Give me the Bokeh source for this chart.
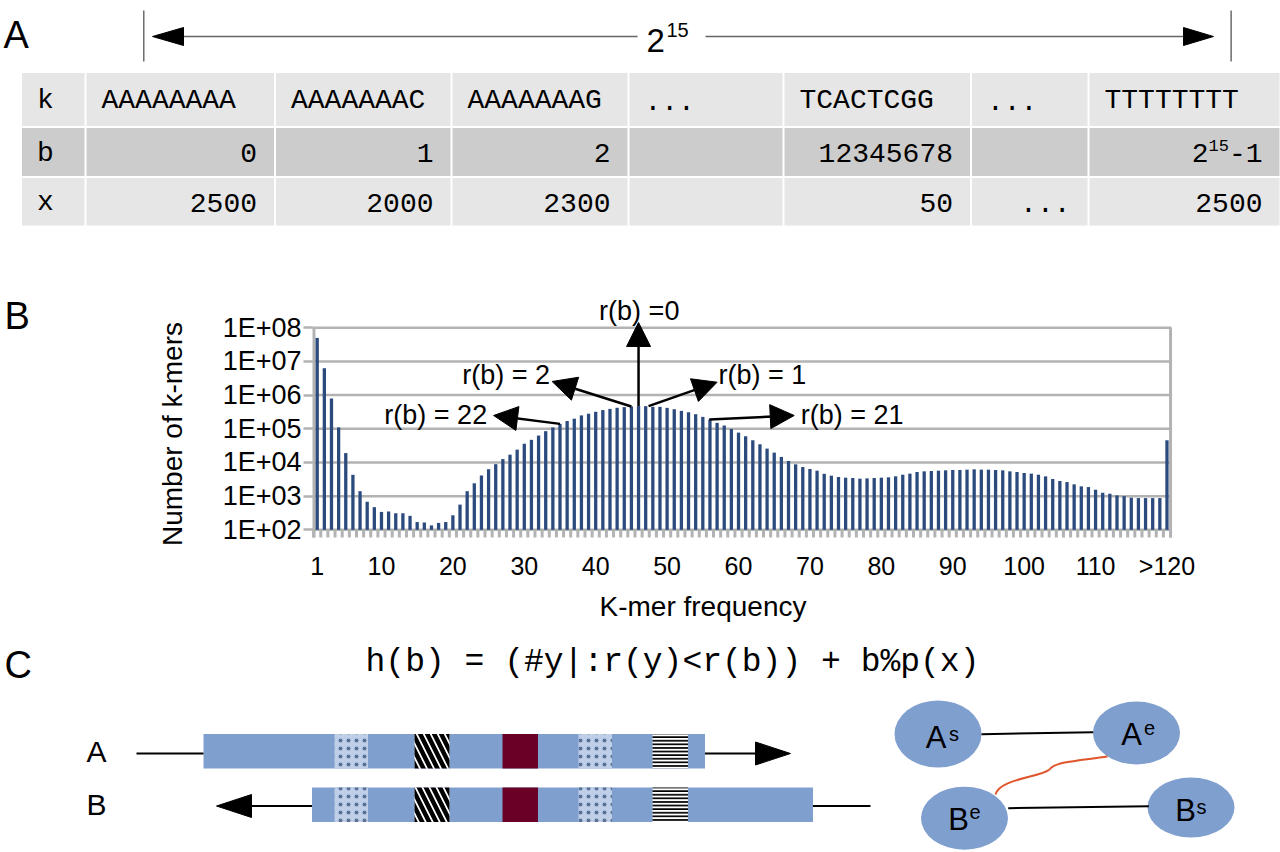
import numpy as np
from bokeh.plotting import figure
from bokeh.models import (Range1d, FixedTicker, CustomJSTickFormatter, Arrow, NormalHead,
                          LogScale, LinearAxis, LogAxis)
from bokeh.embed import file_html
from bokeh.resources import INLINE
from bokeh.core.properties import value

# ---------------- data ----------------
row_names = ["k", "b", "x"]
kmers = ["AAAAAAAA", "AAAAAAAC", "AAAAAAAG", "...", "TCACTCGG", "...", "TTTTTTTT"]
b_values = ["0", "1", "2", "", "12345678", "", "-1"]
x_values = ["2500", "2000", "2300", "", "50", "...", "2500"]
span_base = "2"
span_exp = "15"

freq_categories = [str(i) for i in range(1, 120)] + [">120"]
kmer_counts = [
    5.0e7, 6.3e6, 8.0e5, 1.1e5, 1.9e4, 4300, 1400, 680, 470, 340,
    350, 310, 310, 260, 170, 165, 135, 160, 170, 270,
    560, 1400, 2400, 4100, 6300, 8900, 12600, 17000, 24000, 36000,
    47000, 63000, 85000, 110000, 140000, 170000, 200000, 250000, 280000, 320000,
    360000, 390000, 420000, 440000, 460000, 470000, 470000, 450000, 448000, 418000,
    381000, 340000, 310000, 271000, 226000, 188000, 150000, 125000, 99000, 77000,
    60000, 45600, 34700, 25800, 19600, 14600, 11100, 8800, 7300, 6400,
    5700, 4600, 4050, 3700, 3530, 3450, 3300, 3370, 3450, 3530,
    3610, 3870, 4330, 4650, 5200, 5450, 5570, 5700, 5830, 5970,
    5970, 6110, 6250, 6110, 6110, 5970, 5830, 5450, 5200, 4860,
    4650, 4330, 3870, 3220, 2810, 2620, 2240, 1950, 1860, 1550,
    1260, 1180, 1050, 1000, 900, 875, 875, 875, 875, 45600,
]
x_tick_labels = ["1", "10", "20", "30", "40", "50", "60", "70", "80", "90", "100", "110", ">120"]
y_tick_values = [1e2, 1e3, 1e4, 1e5, 1e6, 1e7, 1e8]
x_title = "K-mer frequency"
y_title = "Number of k-mers"
annotations = ["r(b) =0", "r(b) = 2", "r(b) = 1", "r(b) = 22", "r(b) = 21"]

formula = "h(b) = (#y|:r(y)<r(b)) + b%p(x)"
track_names = ["A", "B"]
node_letters = ["A", "A", "B", "B"]
node_sups = ["s", "e", "e", "s"]

SANS = value("Liberation Sans")
MONO = value("Liberation Mono")
W, H = 1280, 852

# One canvas in image pixel coordinates (y downwards); the histogram uses its own
# linear x range and log y range, placed so that its plot area sits where it belongs.
p = figure(width=W, height=H, x_range=Range1d(0, W), y_range=Range1d(H, 0),
           output_backend="svg", toolbar_location=None,
           x_axis_location=None, y_axis_location=None,
           min_border=0, outline_line_color=None)
p.grid.visible = False

PX_PER_BIN = 7.141     # pixels per frequency bin
X1_PAGE = 316.7        # x of bin 1
PX_PER_DEC = 33.67     # pixels per decade
Y100_PAGE = 529.3      # y of 1E+02
hx0 = 1 - X1_PAGE / PX_PER_BIN
hx1 = 1 + (W - X1_PAGE) / PX_PER_BIN
hy0 = 10 ** (2 - (H - Y100_PAGE) / PX_PER_DEC)
hy1 = 10 ** (2 + Y100_PAGE / PX_PER_DEC)
p.extra_x_ranges = {"hx": Range1d(hx0, hx1)}
p.extra_y_ranges = {"hy": Range1d(hy0, hy1)}
p.extra_y_scales = {"hy": LogScale()}
HR = dict(x_range_name="hx", y_range_name="hy")

# ================= Panel A =================
p.text(x=[3], y=[34], text=["A"], text_font=SANS, text_font_size="38px",
       text_align="left", text_baseline="middle")
p.segment(x0=[143.3, 1230.6], y0=[10, 10], x1=[143.3, 1230.6], y1=[61, 61],
          line_color="#555555", line_width=1.3)
p.segment(x0=[183, 705], y0=[36, 36], x1=[637, 1183], y1=[36, 36],
          line_color="#666666", line_width=1.3)
p.patches(xs=[[152, 183, 183], [1213, 1183, 1183]], ys=[[36, 27, 45], [36, 27, 45]],
          fill_color="black", line_color="black")
p.text(x=[646], y=[40], text=[span_base], text_font=SANS, text_font_size="33px",
       text_align="left", text_baseline="middle")
p.text(x=[666], y=[29], text=[span_exp], text_font=SANS, text_font_size="20px",
       text_align="left", text_baseline="middle")

col_edges = [20.5, 85, 274.5, 451, 628, 783, 970.5, 1088, 1280]
row_edges = [71.5, 126.5, 176.5, 226]
row_fill = ["#e6e6e6", "#cccccc", "#e6e6e6"]
L, R, T, B, C = [], [], [], [], []
for r in range(3):
    for c in range(len(col_edges) - 1):
        L.append(col_edges[c] + 1)
        R.append(col_edges[c + 1] - 1)
        T.append(row_edges[r] + 1)
        B.append(row_edges[r + 1] - 1)
        C.append(row_fill[r])
p.quad(left=L, right=R, top=T, bottom=B, fill_color=C, line_color=None)

rc = [(row_edges[i] + row_edges[i + 1]) / 2 + 1 for i in range(3)]
p.text(x=[col_edges[0] + 16] * 3, y=rc, text=row_names, text_font=MONO,
       text_font_size="28px", text_align="left", text_baseline="middle")
p.text(x=[e + 16 for e in col_edges[1:-1]], y=[rc[0]] * len(kmers), text=kmers,
       text_font=MONO, text_font_size="28px", text_align="left", text_baseline="middle")
p.text(x=[e - 18 for e in col_edges[2:]], y=[rc[1]] * len(b_values), text=b_values,
       text_font=MONO, text_font_size="28px", text_align="right", text_baseline="middle")
p.text(x=[e - 18 for e in col_edges[2:]], y=[rc[2]] * len(x_values), text=x_values,
       text_font=MONO, text_font_size="28px", text_align="right", text_baseline="middle")
last_r = col_edges[-1] - 18 - 2 * 16.8
p.text(x=[last_r], y=[rc[1] - 8], text=[span_exp], text_font=MONO, text_font_size="17px",
       text_align="right", text_baseline="middle")
p.text(x=[last_r - 2 * 10.2], y=[rc[1]], text=[span_base], text_font=MONO,
       text_font_size="28px", text_align="right", text_baseline="middle")

# ================= Panel B (histogram) =================
p.text(x=[4], y=[315], text=["B"], text_font=SANS, text_font_size="38px",
       text_align="left", text_baseline="middle")
grid_gray = "#b3b3b3"
xpos = np.arange(1, len(freq_categories) + 1)
x_left, x_right = 0.48, 120.63
y_bottom = 10 ** (2 - 7.7 / PX_PER_DEC)

p.segment(x0=[x_left] * len(y_tick_values), y0=y_tick_values,
          x1=[x_right] * len(y_tick_values), y1=y_tick_values,
          line_color=grid_gray, line_width=2.5, **HR)
bounds = np.arange(len(freq_categories) + 1) + 0.5
p.segment(x0=bounds, y0=y_bottom, x1=bounds, y1=100, line_color=grid_gray, line_width=3, **HR)
p.segment(x0=[0.55, 120.5], y0=[y_bottom, y_bottom], x1=[0.55, 120.5], y1=[1e8, 1e8],
          line_color=grid_gray, line_width=3, **HR)
p.vbar(x=xpos, top=kmer_counts, bottom=100, width=0.46, fill_color="#2b4a7e",
       line_color=None, **HR)

ya = LogAxis(y_range_name="hy", fixed_location=313)
ya.ticker = FixedTicker(ticks=y_tick_values, minor_ticks=[])
ya.formatter = CustomJSTickFormatter(code="""
    const e = Math.round(Math.log10(tick));
    return "1E+" + String(e).padStart(2, "0");
""")
ya.axis_line_color = None
ya.major_tick_line_color = grid_gray
ya.major_tick_line_width = 2.5
ya.major_tick_out = 10
ya.major_tick_in = 0
ya.minor_tick_line_color = None
ya.major_label_standoff = 2
ya.major_label_text_font = "Liberation Sans"
ya.major_label_text_font_size = "27px"
ya.major_label_text_color = "black"
p.add_layout(ya, "left")

xa = LinearAxis(x_range_name="hx", fixed_location=537)
tick_pos = [freq_categories.index(t) + 1 for t in x_tick_labels]
xa.ticker = FixedTicker(ticks=tick_pos, minor_ticks=[])
xa.formatter = CustomJSTickFormatter(args=dict(cats=freq_categories),
                                     code="return cats[Math.round(tick) - 1];")
xa.axis_line_color = None
xa.major_tick_line_color = None
xa.major_tick_out = 0
xa.major_tick_in = 0
xa.minor_tick_line_color = None
xa.major_label_standoff = 14
xa.major_label_text_font = "Liberation Sans"
xa.major_label_text_font_size = "25px"
xa.major_label_text_color = "black"
p.add_layout(xa, "below")

p.text(x=[702.5], y=[606], text=[x_title], text_font=SANS, text_font_size="28px",
       text_align="center", text_baseline="middle")
p.text(x=[172], y=[433.5], text=[y_title], text_font=SANS, text_font_size="28px",
       text_align="center", text_baseline="middle", angle=np.pi / 2)

arrow_specs = [
    (46, kmer_counts[45], 46, 10 ** 8.157),
    (45, kmer_counts[44], 33.9, 10 ** 6.405),
    (47.4, kmer_counts[46], 57.0, 10 ** 6.384),
    (35, kmer_counts[34], 25.7, 10 ** 5.395),
    (55.9, kmer_counts[55], 67.8, 10 ** 5.395),
]
for xs_, ys_, xe_, ye_ in arrow_specs:
    p.add_layout(Arrow(end=NormalHead(size=24, fill_color="black", line_color="black"),
                       x_start=xs_, y_start=ys_, x_end=xe_, y_end=ye_,
                       line_color="black", line_width=2.5, **HR))
ann_x = [46.1, 33.6, 57.2, 24.8, 68.7]
ann_y = [10 ** 8.513, 10 ** 6.583, 10 ** 6.583, 10 ** 5.424, 10 ** 5.424]
ann_align = ["center", "right", "left", "right", "left"]
for t, ax_, ay_, al in zip(annotations, ann_x, ann_y, ann_align):
    p.text(x=[ax_], y=[ay_], text=[t], text_font=SANS, text_font_size="27px",
           text_align=al, text_baseline="middle", **HR)

# ================= Panel C =================
p.text(x=[4], y=[664], text=["C"], text_font=SANS, text_font_size="38px",
       text_align="left", text_baseline="middle")
p.text(x=[672], y=[662], text=[formula], text_font=MONO, text_font_size="33px",
       text_align="center", text_baseline="middle")
p.text(x=[96, 96], y=[751, 804], text=track_names, text_font=SANS, text_font_size="30px",
       text_align="center", text_baseline="middle")

track_blue = "#7f9fcf"
tr_top = [733.5, 787]
tr_bot = [768, 821.5]
p.quad(left=[203, 311.5], right=[704.5, 812.5], top=tr_top, bottom=tr_bot,
       fill_color=track_blue, line_color=None)
feat_x0 = [334, 414, 502, 578, 652]
feat_x1 = [367.5, 449, 537.5, 611.5, 687.5]
for i in range(2):
    p.quad(left=[feat_x0[0], feat_x0[3]], right=[feat_x1[0], feat_x1[3]],
           top=[tr_top[i]] * 2, bottom=[tr_bot[i]] * 2, fill_color="#c0cfe8",
           line_color=None, hatch_pattern="dot", hatch_color="#5a7299",
           hatch_scale=8, hatch_weight=1.5)
    p.quad(left=[feat_x0[1]], right=[feat_x1[1]], top=[tr_top[i]], bottom=[tr_bot[i]],
           fill_color="white", line_color=None, hatch_pattern="left_diagonal_line",
           hatch_color="black", hatch_scale=14, hatch_weight=4.5)
    p.quad(left=[feat_x0[2]], right=[feat_x1[2]], top=[tr_top[i]], bottom=[tr_bot[i]],
           fill_color="#6a0026", line_color=None)
    p.quad(left=[feat_x0[4]], right=[feat_x1[4]], top=[tr_top[i]], bottom=[tr_bot[i]],
           fill_color="white", line_color=None, hatch_pattern="horizontal_line",
           hatch_color="black", hatch_scale=3.6, hatch_weight=1.8)

p.segment(x0=[136, 704.5, 251, 812.5], y0=[753, 753, 805.5, 805.5],
          x1=[203, 755, 311.5, 870], y1=[753, 753, 805.5, 805.5],
          line_color="black", line_width=2)
p.patches(xs=[[755, 755, 790], [251, 251, 216]], ys=[[741.5, 764.5, 753], [794, 817, 805.5]],
          fill_color="black", line_color="black")

nx = [937.5, 1136, 964, 1190.5]
ny = [733.5, 732.5, 817.7, 807]
p.ellipse(x=nx, y=ny, width=[87, 87, 87, 87], height=[67, 63, 63, 60],
          fill_color=track_blue, line_color=None)
p.segment(x0=[981, 1007.7], y0=[733.7, 807.7], x1=[1092.7, 1148.3], y1=[731.7, 805.7],
          line_color="black", line_width=2)
p.bezier(x0=[995, 1049], y0=[794, 769], x1=[1049, 1107], y1=[769, 756],
         cx0=[999, 1054], cy0=[778, 761], cx1=[1040, 1080], cy1=[777, 760],
         line_color="#e0552a", line_width=2)
p.text(x=[935.5, 1131, 958, 1185], y=[737, 733.5, 818.5, 809.5], text=node_letters,
       text_font=SANS, text_font_size="31px", text_align="center", text_baseline="middle")
p.text(x=[948.5, 1143.5, 969, 1196], y=[733, 727.5, 811, 806], text=node_sups,
       text_font=SANS, text_font_size="20px", text_align="left", text_baseline="middle")

open("out.html", "w").write(file_html(p, INLINE))
